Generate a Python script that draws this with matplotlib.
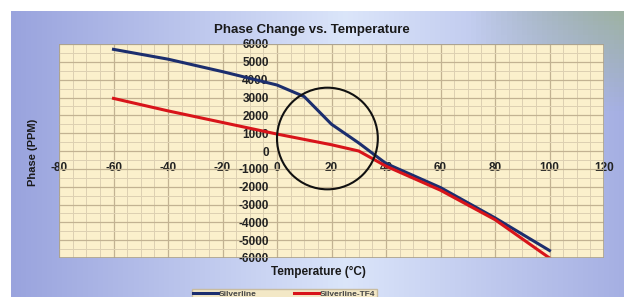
import numpy as np
import matplotlib
matplotlib.use("Agg")
import matplotlib.pyplot as plt
from matplotlib.patches import Ellipse
from matplotlib.ticker import MultipleLocator

plt.rcParams["font.family"] = ["Liberation Sans", "DejaVu Sans"]
plt.rcParams["axes.unicode_minus"] = False

# data
temp = [-60, -40, -20, 0, 10, 20, 30, 40, 60, 80, 100]
silverline = [5700, 5150, 4450, 3700, 3050, 1500, 450, -700, -2050, -3750, -5580]
silverline_tf4 = [2950, 2250, 1600, 950, 650, 350, 0, -850, -2200, -3850, -6000]
series_names = ["Silverline", "Silverline-TF4"]

fig = plt.figure(figsize=(6.24, 2.97), dpi=100)
fig.patch.set_facecolor("white")

# gradient background panel
bg = fig.add_axes([11 / 624, 0, 1 - 11 / 624, 1 - 11 / 297])
ny, nx = 60, 120
xx, yy = np.meshgrid(np.linspace(0, 1, nx), np.linspace(0, 1, ny))
c_left = np.array([0.60, 0.64, 0.87])
c_mid = np.array([0.86, 0.90, 0.98])
c_tr = np.array([0.62, 0.70, 0.64])
t = np.clip(1 - np.abs(xx - 0.55) / 0.55, 0, 1)[..., None]
img = c_left * (1 - t) + c_mid * t
w = np.clip((xx - 0.75) / 0.25, 0, 1) * np.clip((0.35 - yy) / 0.35, 0, 1)
img = img * (1 - w[..., None]) + c_tr * w[..., None]
bg.imshow(img, aspect="auto", extent=[0, 1, 0, 1], origin="upper")
bg.set_axis_off()

ax = fig.add_axes([59 / 624, 1 - 258 / 297, (604 - 59) / 624, (258 - 44) / 297])
ax.set_facecolor("#fbf0cc")
ax.set_xlim(-80, 120)
ax.set_ylim(-6000, 6000)

ax.xaxis.set_major_locator(MultipleLocator(20))
ax.xaxis.set_minor_locator(MultipleLocator(5))
ax.yaxis.set_major_locator(MultipleLocator(1000))
ax.yaxis.set_minor_locator(MultipleLocator(500))
ax.grid(which="major", color="#c2b292", linewidth=0.9)
ax.grid(which="minor", color="#ddd0b2", linewidth=0.7)
ax.set_axisbelow(True)

ax.spines["left"].set_position(("data", 0))
ax.spines["bottom"].set_position(("data", 0))
for s in ["left", "bottom", "top", "right"]:
    ax.spines[s].set_visible(False)
# border of plot area
ax.add_patch(plt.Rectangle((0, 0), 1, 1, transform=ax.transAxes, fill=False,
                           edgecolor="#a8a090", linewidth=1.2, zorder=5))

ax.tick_params(which="both", length=0, labelsize=8.5)
ax.tick_params(axis="x", pad=8)
ax.tick_params(axis="y", pad=6)
for lab in ax.get_xticklabels() + ax.get_yticklabels():
    lab.set_fontweight("bold")
    lab.set_color("#222222")

l1, = ax.plot(temp, silverline, color="#1c2e6e", linewidth=2.2, label=series_names[0])
l2, = ax.plot(temp, silverline_tf4, color="#d8141a", linewidth=2.2, label=series_names[1])

ax.add_patch(Ellipse((18.5, 700), 37, 5700, fill=False, edgecolor="#111111",
                     linewidth=1.5, zorder=6))

fig.text(0.5, 1 - 30 / 297, "Phase Change vs. Temperature", ha="center", va="center",
         fontsize=9.5, fontweight="bold", color="#1a1a1a")
fig.text(33 / 624, 1 - 152 / 297, "Phase (PPM)", ha="center", va="center", rotation=90,
         fontsize=8, fontweight="bold", color="#1a1a1a")
fig.text(318 / 624, 1 - 272 / 297, "Temperature (\u00b0C)", ha="center", va="center",
         fontsize=8.5, fontweight="bold", color="#1a1a1a")

leg = fig.legend(handles=[l1, l2], loc="lower left", bbox_to_anchor=(190 / 624, -0.012),
                 ncol=2, fontsize=6, frameon=True, fancybox=False, handlelength=3,
                 columnspacing=4.5, borderpad=0.15, handletextpad=0.1, borderaxespad=0.2)
leg.get_frame().set_facecolor("#f3e8c6")
leg.get_frame().set_edgecolor("#c8bca0")
leg.get_frame().set_alpha(1)
for txt in leg.get_texts():
    txt.set_fontweight("bold")
    txt.set_color("#444444")

fig.savefig("out.png", dpi=100)
